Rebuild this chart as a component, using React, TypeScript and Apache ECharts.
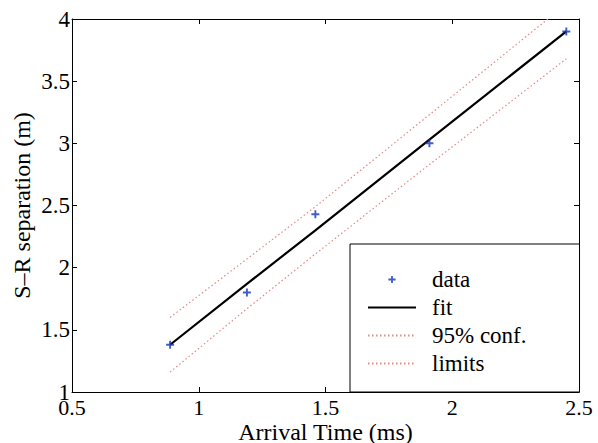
import React, { useEffect, useRef } from "react";
import * as echarts from "echarts";

const xData = [0.887, 1.19, 1.46, 1.91, 2.45];
const yData = [1.38, 1.80, 2.43, 3.00, 3.90];
const fitY = [1.38, 1.87, 2.30, 3.03, 3.90];
const upperY = [1.60, 2.07, 2.49, 3.23, 4.12];
const lowerY = [1.16, 1.67, 2.11, 2.83, 3.68];
const legendNames = ["data", "fit", "95% conf.", "limits"];

const FONT = "Liberation Serif";
const PLUS = "path://M3.8,0H6.2V3.8H10V6.2H6.2V10H3.8V6.2H0V3.8H3.8Z";
const PLUS_ICON = "path://M0,0M48,14M23.1,3.4H24.9V6.1H27.6V7.9H24.9V10.6H23.1V7.9H20.4V6.1H23.1Z";

export default function App() {
  const ref = useRef<HTMLDivElement>(null);
  useEffect(() => {
    const chart = echarts.init(ref.current!, null, { renderer: "svg" });
    const pts = (ys: number[]) => xData.map((x, i) => [x, ys[i]]);
    const axisCommon = {
      axisLine: { lineStyle: { color: "#000", width: 1 } },
      axisTick: { inside: true, length: 5, lineStyle: { color: "#000" } },
      splitLine: { show: false },
    };
    chart.setOption({
      animation: false,
      backgroundColor: "#fff",
      textStyle: { fontFamily: FONT },
      grid: { left: 72, top: 19, right: 19, bottom: 51, containLabel: false, outerBoundsMode: "none" },
      xAxis: [
        {
          type: "value", min: 0.5, max: 2.5, interval: 0.5, position: "bottom",
          ...axisCommon,
          axisLabel: { color: "#000", fontSize: 22, fontFamily: FONT, margin: 4 },
          name: "Arrival Time (ms)", nameLocation: "middle", nameGap: 28, nameMoveOverlap: false,
          nameTextStyle: { color: "#000", fontSize: 24, fontFamily: FONT },
        },
        {
          type: "value", min: 0.5, max: 2.5, interval: 0.5, position: "top",
          ...axisCommon, axisLabel: { show: false },
        },
      ],
      yAxis: [
        {
          type: "value", min: 1, max: 4, interval: 0.5, position: "left",
          ...axisCommon,
          axisLabel: { color: "#000", fontSize: 23, fontFamily: FONT, margin: 2 },
          name: "S–R separation (m)", nameLocation: "middle", nameGap: 38, nameMoveOverlap: false,
          nameTextStyle: { color: "#000", fontSize: 24, fontFamily: FONT },
        },
        {
          type: "value", min: 1, max: 4, interval: 0.5, position: "right",
          ...axisCommon, axisLabel: { show: false },
        },
      ],
      legend: {
        orient: "vertical",
        left: 350,
        top: 244,
        backgroundColor: "#fff",
        borderColor: "#000",
        borderWidth: 1,
        borderRadius: 0,
        padding: [24, 53, 17, 17],
        itemWidth: 48,
        itemHeight: 14,
        itemGap: 5,
        textStyle: { color: "#000", fontSize: 23, fontFamily: FONT, padding: [0, 0, 0, 11] },
        data: [
          { name: legendNames[0], icon: PLUS_ICON },
          { name: legendNames[1], itemStyle: { opacity: 0 } },
          { name: legendNames[2], itemStyle: { opacity: 0 } },
          { name: legendNames[3], itemStyle: { opacity: 0 } },
        ],
      },
      series: [
        {
          name: legendNames[2], type: "line", data: pts(upperY), symbol: "none",
          lineStyle: { color: "#e58888", width: 1.2, type: [1.5, 2.5] },
          itemStyle: { color: "#e58888" }, z: 2,
        },
        {
          name: legendNames[3], type: "line", data: pts(lowerY), symbol: "none",
          lineStyle: { color: "#e58888", width: 1.2, type: [1.5, 2.5] },
          itemStyle: { color: "#e58888" }, z: 2,
        },
        {
          name: legendNames[1], type: "line", data: pts(fitY), symbol: "none",
          lineStyle: { color: "#000", width: 2.2 },
          itemStyle: { color: "#000" }, z: 3,
        },
        {
          name: legendNames[0], type: "scatter", data: pts(yData), symbol: PLUS, symbolSize: 8,
          itemStyle: { color: "#1434b8" }, z: 4,
        },
      ],
    });
    return () => chart.dispose();
  }, []);
  return <div ref={ref} style={{ position: "fixed", left: 0, top: 0, width: 598, height: 443 }} />;
}
